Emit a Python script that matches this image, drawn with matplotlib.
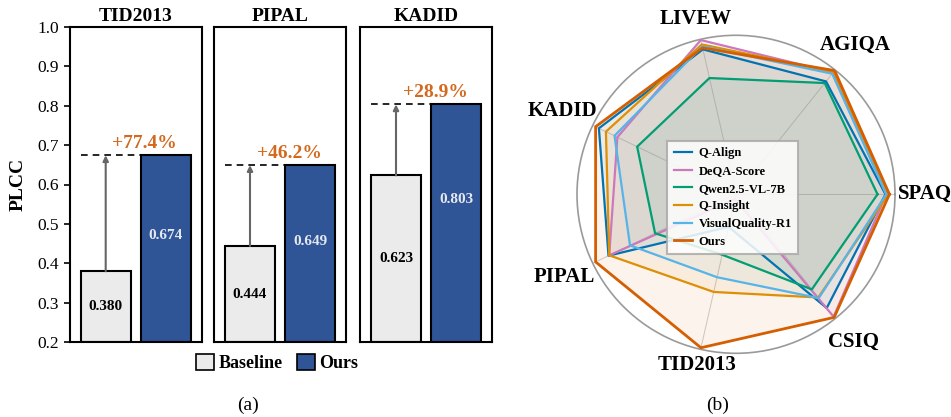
import numpy as np
import matplotlib
matplotlib.use('Agg')
import matplotlib.pyplot as plt
from matplotlib.patches import Patch

plt.rcParams['font.family'] = 'serif'
plt.rcParams['font.serif'] = ['Liberation Serif', 'DejaVu Serif']

# ---- (a) bar data
bar_sets = ['TID2013', 'PIPAL', 'KADID']
baseline = [0.380, 0.444, 0.623]
ours = [0.674, 0.649, 0.803]

# ---- (b) radar data (normalised per dataset)
radar_axes = ['SPAQ', 'AGIQA', 'LIVEW', 'KADID', 'PIPAL', 'TID2013', 'CSIQ']
methods = ['Q-Align', 'DeQA-Score', 'Qwen2.5-VL-7B', 'Q-Insight', 'VisualQuality-R1', 'Ours']
q_align = [0.940, 0.908, 0.935, 0.957, 0.890, 0.210, 0.915]
deqa = [0.945, 0.980, 0.995, 0.828, 0.885, 0.030, 0.985]
qwen = [0.890, 0.895, 0.750, 0.690, 0.565, 0.390, 0.765]
q_insight = [0.958, 0.985, 0.967, 0.908, 0.885, 0.630, 0.830]
vq_r1 = [0.945, 0.970, 0.955, 0.848, 0.740, 0.535, 0.835]
ours_radar = [0.965, 0.995, 0.945, 0.980, 0.980, 0.990, 0.990]

base_color = '#EBEBEB'
ours_color = '#2F5597'
gain_color = '#D2691E'
method_colors = ['#0173B2', '#CC78BC', '#029E73', '#DE8F05', '#56B4E9', '#D55E00']

W, H = 951, 417
fig = plt.figure(figsize=(W / 100, H / 100), dpi=100)

lefts = [69.7, 214, 360]
ax_w = 132
bw = 0.83
for i, name in enumerate(bar_sets):
    ax = fig.add_axes([lefts[i] / W, 74.7 / H, ax_w / W, 315.6 / H])
    b, o = baseline[i], ours[i]
    ax.plot([-bw / 2, 1], [o, o], color='black', ls=(0, (4, 3)), lw=1.2, zorder=1)
    ax.bar(0, b - 0.2, bottom=0.2, width=bw, color=base_color, edgecolor='black', lw=1.5, zorder=2)
    ax.bar(1, o - 0.2, bottom=0.2, width=bw, color=ours_color, edgecolor='black', lw=1.5, zorder=2)
    ax.annotate('', xy=(0, o), xytext=(0, b),
                arrowprops=dict(arrowstyle='-|>', color='#666666', lw=1.5, mutation_scale=8,
                                shrinkA=0, shrinkB=0), zorder=3)
    ax.text(0, (0.2 + b) / 2, f'{b:.3f}', ha='center', va='center', fontsize=11,
            fontweight='bold', color='black')
    ax.text(1, o * 0.7, f'{o:.3f}', ha='center', va='center', fontsize=11,
            fontweight='bold', color='#E6E8F0')
    gain = (o - b) / b * 100
    ax.text(0.65, o + 0.008, f'+{gain:.1f}%', ha='center', va='bottom', fontsize=14,
            fontweight='bold', color=gain_color)
    ax.set_xlim(-0.6, 1.6)
    ax.set_ylim(0.2, 1.0)
    ax.set_xticks([])
    ax.set_title(name, fontsize=14, fontweight='bold', pad=4)
    for s in ax.spines.values():
        s.set_linewidth(1.5)
    if i == 0:
        ax.set_yticks(np.arange(0.2, 1.01, 0.1))
        ax.tick_params(axis='y', labelsize=12.5, width=1.2, length=4)
        ax.set_ylabel('PLCC', fontsize=14, fontweight='bold', labelpad=8)
    else:
        ax.set_yticks([])

fig.legend(handles=[Patch(facecolor=base_color, edgecolor='black', lw=1.2, label='Baseline'),
                    Patch(facecolor=ours_color, edgecolor='black', lw=1.2, label='Ours')],
           loc='center', bbox_to_anchor=(277 / W, 1 - 363 / H), ncol=2, frameon=False,
           prop={'weight': 'bold', 'size': 13}, handlelength=1.0, handleheight=1.0,
           handletextpad=0.25, columnspacing=0.8)
fig.text(248 / W, 1 - 405 / H, '(a)', ha='center', va='center', fontsize=14)

# ---- (b) radar
cx, cy, R = 736, 194.3, 159
rax = fig.add_axes([(cx - R) / W, (H - cy - R) / H, 2 * R / W, 2 * R / H], projection='polar')
angles = np.linspace(0, 2 * np.pi, len(radar_axes), endpoint=False)
closed = np.concatenate([angles, angles[:1]])
series = [q_align, deqa, qwen, q_insight, vq_r1, ours_radar]
for name, vals, c in zip(methods, series, method_colors):
    v = np.concatenate([vals, vals[:1]])
    lw = 2.0 if name == 'Ours' else 1.6
    rax.plot(closed, v, color=c, lw=lw, label=name, zorder=3)
    rax.fill(closed, v, color=c, alpha=0.07, zorder=2)
rax.set_ylim(0, 1)
rax.set_yticks([])
rax.set_xticks(angles)
rax.set_xticklabels([])
rax.xaxis.grid(True, color='#cccccc', lw=0.7)
rax.spines['polar'].set_color('#9a9a9a')
rax.spines['polar'].set_linewidth(1.2)
label_r = [1.19, 1.2, 1.13, 1.21, 1.2, 1.1, 1.19]
for a, name, r in zip(angles, radar_axes, label_r):
    rax.text(a, r, name, ha='center', va='center', fontsize=15, fontweight='bold')
leg = rax.legend(loc='center', bbox_to_anchor=(0.49, 0.49), prop={'weight': 'bold', 'size': 9},
                 fancybox=False, framealpha=0.85, edgecolor='#aaaaaa', handlelength=1.5,
                 labelspacing=0.45, handletextpad=0.5, borderpad=0.5)
leg.get_frame().set_linewidth(1.5)
fig.text(718 / W, 1 - 405 / H, '(b)', ha='center', va='center', fontsize=14)

fig.savefig('out.png', dpi=100)
